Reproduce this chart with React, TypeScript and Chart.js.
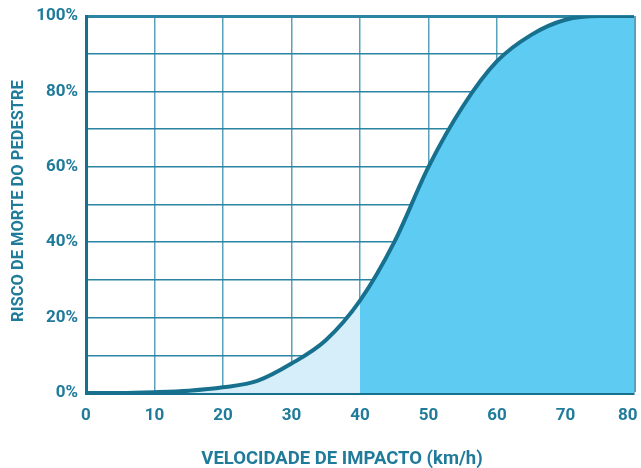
import React, { useEffect, useRef } from "react";
import { Chart, registerables } from "chart.js";

Chart.register(...registerables);

const speeds = [0, 5, 10, 15, 20, 25, 30, 35, 40, 45, 50, 55, 60, 65, 70, 75, 80];
const risk = [0, 0, 0.2, 0.6, 1.5, 3.2, 7.8, 14, 24.5, 40, 60, 76, 88, 95, 99, 100, 100];
const splitSpeed = 40;
const xTitle = "VELOCIDADE DE IMPACTO (km/h)";
const yTitle = "RISCO DE MORTE DO PEDESTRE";

const TEXT = "#1f7b99";
const LINE = "#17718e";
const GRID = "#2a84a2";
const LIGHT = "#d6eef9";
const DARK = "#5ecbf3";
const FONT = "Roboto";

export default function App() {
  const ref = useRef<HTMLCanvasElement | null>(null);
  useEffect(() => {
    document.body.style.margin = "0";
    const titles = {
      id: "titles",
      afterDraw(chart: any) {
        const c = chart.ctx;
        c.save();
        c.fillStyle = TEXT;
        c.textAlign = "center";
        c.textBaseline = "middle";
        c.font = `bold 18.5px ${FONT}`;
        c.fillText(xTitle, 342, 459);
        c.translate(19, 201);
        c.rotate(-Math.PI / 2);
        c.font = `bold 16.5px ${FONT}`;
        c.fillText(yTitle, 0, 0);
        c.restore();
      },
    };
    const chart = new Chart(ref.current!, {
      type: "line",
      data: {
        labels: speeds,
        datasets: [
          {
            data: speeds.map((s, i) => ({ x: s, y: risk[i] })),
            borderColor: LINE,
            borderWidth: 4,
            pointRadius: 0,
            cubicInterpolationMode: "monotone",
            fill: "origin",
            backgroundColor: (ctx: any) => {
              const chart = ctx.chart;
              const area = chart.chartArea;
              if (!area) return LIGHT;
              const px = chart.scales.x.getPixelForValue(splitSpeed);
              const f = (px - area.left) / (area.right - area.left);
              const g = chart.ctx.createLinearGradient(area.left, 0, area.right, 0);
              g.addColorStop(0, LIGHT);
              g.addColorStop(f, LIGHT);
              g.addColorStop(f, DARK);
              g.addColorStop(1, DARK);
              return g;
            },
          } as any,
        ],
      },
      options: {
        animation: false,
        responsive: false,
        maintainAspectRatio: false,
        layout: { padding: { top: 16, right: 7, left: 0, bottom: 0 } },
        plugins: { legend: { display: false }, tooltip: { enabled: false } },
        scales: {
          x: {
            type: "linear",
            min: 0,
            max: 80,
            z: 1,
            ticks: {
              stepSize: 10,
              color: TEXT,
              font: { family: FONT, weight: "bold", size: 17 },
              padding: 13,
              maxRotation: 0,
              callback: (v: any) => (v === 80 ? v + "   " : String(v)),
            },
            grid: {
              color: "#5aa2bb",
              lineWidth: (c: any) => (c.tick && c.tick.value === 80 ? 3 : 1.5),
              drawTicks: false,
            },
            border: { color: LINE, width: 3 },
            afterFit: (s: any) => {
              s.height = 75;
              s.paddingRight = 0;
              s.paddingLeft = 0;
            },
          },
          y: {
            min: 0,
            max: 100,
            z: 1,
            ticks: {
              stepSize: 10,
              color: TEXT,
              font: { family: FONT, weight: "bold", size: 17 },
              padding: 8,
              callback: (v: any) => (v % 20 === 0 ? v + "%" : ""),
            },
            grid: {
              color: GRID,
              lineWidth: (c: any) => (c.tick && c.tick.value === 100 ? 3 : 1.5),
              drawTicks: false,
            },
            border: { color: LINE, width: 3 },
            afterFit: (s: any) => {
              s.width = 86;
              s.paddingTop = 0;
              s.paddingBottom = 0;
            },
          },
        },
      },
      plugins: [titles],
    });
    return () => chart.destroy();
  }, []);
  return (
    <div style={{ width: 641, height: 468 }}>
      <canvas ref={ref} width={641} height={468} style={{ width: 641, height: 468 }} />
    </div>
  );
}
